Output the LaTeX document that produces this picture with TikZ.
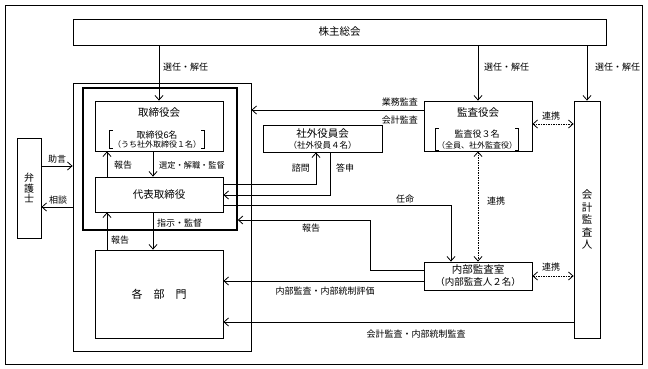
\documentclass[tikz,border=0pt]{standalone}
\usepackage{fontspec}
\setmainfont{Noto Sans CJK JP}
\usepackage{tikz}
\usetikzlibrary{arrows.meta}
\newcommand{\lblsize}{\fontsize{9}{10}\selectfont}
\newcommand{\subsize}{\fontsize{8}{9.5}\selectfont}
\newcommand{\midsize}{\fontsize{9}{10}\selectfont}

\begin{document}
\begin{tikzpicture}[
    x=1pt, y=-1pt,
    >={Straight Barb[length=4.5pt,width=8pt]},
    every node/.style={font=\fontsize{10.5}{12}\selectfont},
    box/.style={draw, line width=0.8pt, inner sep=0pt, align=center},
    lbl/.style={font=\lblsize, inner sep=1pt},
    sub/.style={font=\subsize, align=center, inner sep=0pt},
    conn/.style={->, line width=0.8pt},
    link/.style={<->, line width=0.8pt, dash pattern=on 1.5pt off 1pt},
    brk/.style={line width=0.8pt}
]
    \useasboundingbox (0,0) rectangle (648,369);
    \draw[line width=0.8pt] (5,5) rectangle (642,364);

    \node[box, minimum width=533, minimum height=26] (kabu) at (339.5,32) {株主総会};
    \node[box, minimum width=178, minimum height=268] (co) at (162,217) {};
    \node[box, line width=1.6pt, minimum width=154, minimum height=142] (keiei) at (160,159) {};
    \node[box, minimum width=128, minimum height=50] (tb) at (159,126) {};
    \node (tbt) at (159,113) {取締役会};
    \node[sub, minimum width=94, minimum height=18] (tbm) at (157,139.5) {{\midsize 取締役6名}\\[-1pt]（うち社外取締役１名）};
    \node[box, minimum width=128, minimum height=35] (dai) at (159,194.5) {代表取締役};
    \node[box, minimum width=128, minimum height=88, font=\fontsize{11}{12}\selectfont] (kakubu) at (159,294) {各　部　門};
    \node[box, minimum width=24, minimum height=100, font=\fontsize{10}{10.5}\selectfont] (ben) at (29,188) {弁\\護\\士};
    \node[box, minimum width=119, minimum height=27] (shagai) at (322.5,138.5) {社外役員会\\[-1pt]{\fontsize{8.5}{10}\selectfont（社外役員４名）}};
    \node[box, minimum width=108, minimum height=50] (kansa) at (478,126) {};
    \node (kst) at (478,113) {監査役会};
    \node[sub, minimum width=82, minimum height=21] (ksm) at (477,139.5) {{\midsize 監査役３名}\\[1pt]（全員、社外監査役）};
    \node[box, minimum width=108, minimum height=28] (naibu) at (478,276) {内部監査室\\[0pt]{\fontsize{9.5}{10}\selectfont（内部監査人２名）}};
    \node[box, minimum width=26, minimum height=237, font=\fontsize{10.5}{12.5}\selectfont] (kaikei) at (587,219.5) {会\\計\\監\\査\\人};

    \draw[brk] ([xshift=3pt]tbm.north west) -| (tbm.south west) -- ++(3,0);
    \draw[brk] ([xshift=-3pt]tbm.north east) -| (tbm.south east) -- ++(-3,0);
    \draw[brk] ([xshift=3pt]ksm.north west) -| (ksm.south west) -- ++(3,0);
    \draw[brk] ([xshift=-3pt]ksm.north east) -| (ksm.south east) -- ++(-3,0);

    \draw[conn] (kabu.south -| tb.north) -- (tb.north);
    \draw[conn] (kabu.south -| kansa.north) -- (kansa.north);
    \draw[conn] (kabu.south -| kaikei.north) -- (kaikei.north);
    \node[lbl, anchor=west] (sn1) at (162,67) {選任・解任};
    \node[lbl, anchor=west] (sn2) at (483,67) {選任・解任};
    \node[lbl, anchor=west] (sn3) at (594,67) {選任・解任};

    \draw[conn] (kansa.west |- 0,110) -- (co.east |- 0,110);
    \node[lbl, anchor=east] (gm) at (419,102) {業務監査};
    \node[lbl, anchor=east] (km) at (419,120) {会計監査};

    \draw[link] (kansa.east |- 0,124) -- (kaikei.west |- 0,124);
    \node[lbl] (rk1) at (551,116) {連携};
    \draw[link] (kansa.south) -- (naibu.north);
    \node[lbl] (rk2) at (496,201) {連携};
    \draw[link] (naibu.east) -- (kaikei.west |- naibu.east);
    \node[lbl] (rk3) at (551,267) {連携};

    \draw[conn] (tb.south -| 153,0) -- (dai.north -| 153,0);
    \node[lbl, anchor=west, font=\fontsize{8.2}{10}\selectfont] (sentei) at (158,165) {選定・解職・監督};
    \draw[conn] (dai.north -| 107,0) -- (tb.south -| 107,0);
    \node[lbl, anchor=west] (hk1) at (113,165) {報告};
    \draw[conn] (dai.south -| 153,0) -- (kakubu.north -| 153,0);
    \node[lbl, anchor=west] (shiji) at (156,223) {指示・監督};
    \draw[conn] (kakubu.north -| 107,0) -- (dai.south -| 107,0);
    \node[lbl, anchor=west] (hk2) at (110,240) {報告};

    \draw[conn] (ben.east |- 0,166) -- (co.west |- 0,166);
    \node[lbl] (jogen) at (57,159) {助言};
    \draw[conn] (co.west |- 0,207) -- (ben.east |- 0,207);
    \node[lbl] (sodan) at (58,200) {相談};

    \draw[conn] (dai.east |- 0,184) -| (shagai.south -| 316,0);
    \node[lbl, anchor=east] (shimon) at (311,168) {諮問};
    \draw[conn] (shagai.south -| 330,0) |- (dai.east |- 0,195);
    \node[lbl, anchor=west] (toshin) at (335,168) {答申};
    \draw[conn] (dai.east |- 0,205) -| (naibu.north -| 451,0);
    \node[lbl] (ninmei) at (405,199) {任命};

    \draw[conn] (naibu.west |- 0,270) -| (370,220) -- (keiei.east |- 0,220);
    \node[lbl] (hk3) at (311,228) {報告};
    \draw[conn] (naibu.west |- 0,281) -- (kakubu.east |- 0,281);
    \node[lbl] (nh) at (325,291) {内部監査・内部統制評価};
    \draw[conn] (kaikei.west |- 0,322) -- (kakubu.east |- 0,322);
    \node[lbl] (kk) at (416,334) {会計監査・内部統制監査};
\end{tikzpicture}
\end{document}
